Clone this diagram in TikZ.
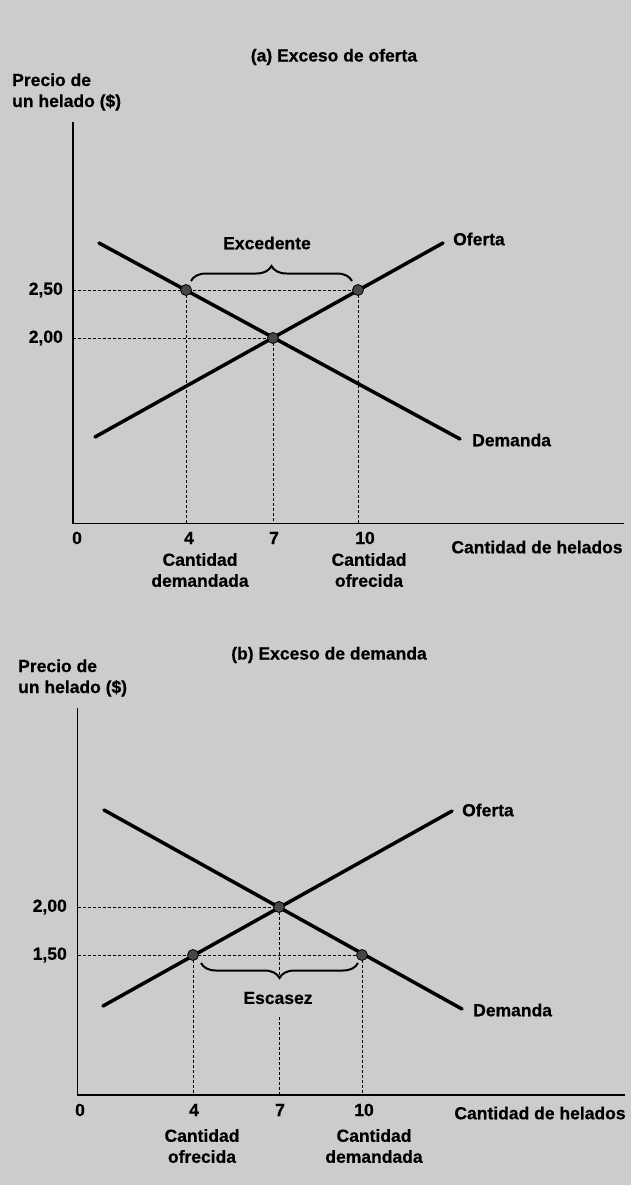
\documentclass[tikz,border=0pt]{standalone}
\usepackage{fontspec}
\setmainfont[FakeBold=0.6]{Liberation Sans}
\usetikzlibrary{decorations.pathreplacing}
\definecolor{paper}{gray}{0.80}
\begin{document}
\begin{tikzpicture}[x=1pt,y=-1pt,
  lbl/.style={font=\fontsize{17.5}{21}\selectfont\bfseries, inner sep=0pt, text=black},
  curve/.style={line width=3.5pt, line cap=round},
  axis/.style={line width=1.6pt},
  guide/.style={line width=0.9pt, dash pattern=on 3pt off 2pt},
  dot/.style={circle, fill=black!72, draw=black, line width=0.8pt, minimum size=11pt, inner sep=0pt},
  bracebox/.style={decorate, decoration={brace, amplitude=15pt}, line width=2pt},
]
\fill[paper] (0,0) rectangle (631,1185);
\useasboundingbox (0,0) rectangle (631,1185);

% ================= Panel (a) =================
\node[lbl] (titleA) at (334,57) {(a) Exceso de oferta};
\node[lbl, anchor=west, align=left] (ylabA) at (12,92) {Precio de\\un helado (\$)};

\coordinate (oA) at (72.7,523.5);
\coordinate (ytopA) at (72.7,122);
\coordinate (xendA) at (624,523.5);

\coordinate (A4) at (186,290);
\coordinate (A7) at (273,338);
\coordinate (A10) at (358,290);
\coordinate (pA250) at (72.7,290);
\coordinate (pA200) at (72.7,338);
\coordinate (qA4) at (186,523.5);
\coordinate (qA7) at (273,523.5);
\coordinate (qA10) at (358,523.5);

\draw[guide] (pA250) -- (A10);
\draw[guide] (pA200) -- (A7);
\draw[guide] (A4) -- (qA4);
\draw[guide] (A7) -- (qA7);
\draw[guide] (A10) -- (qA10);

\draw[axis] (ytopA) -- (oA) -- (xendA);

\coordinate (dA1) at (99,243);
\coordinate (dA2) at (460,439);
\coordinate (sA1) at (95,437);
\coordinate (sA2) at (443,243);
\draw[curve] (dA1) -- (dA2);
\draw[curve] (sA1) -- (sA2);

\node[dot] (dotA4) at (A4) {};
\node[dot] (dotA7) at (A7) {};
\node[dot] (dotA10) at (A10) {};

\draw[bracebox] (191,281) -- (352,281);
\node[lbl] (excA) at (267,243) {Excedente};

\node[lbl, anchor=east] (p250A) at (63,290) {2,50};
\node[lbl, anchor=east] (p200A) at (63,338) {2,00};

\node[lbl] (t0A) at (77,538) {0};
\node[lbl] (t4A) at (189,538) {4};
\node[lbl] (t7A) at (274,538) {7};
\node[lbl] (t10A) at (365,538) {10};
\node[lbl, align=center] (cdA) at (200,570) {Cantidad\\demandada};
\node[lbl, align=center] (coA) at (369,570) {Cantidad\\ofrecida};
\node[lbl] (xlabA) at (537,547) {Cantidad de helados};

\node[lbl, anchor=west] (ofA) at (453,239) {Oferta};
\node[lbl, anchor=west] (deA) at (472,440) {Demanda};

% ================= Panel (b) =================
\node[lbl] (titleB) at (329,655) {(b) Exceso de demanda};
\node[lbl, anchor=west, align=left] (ylabB) at (18,678) {Precio de\\un helado (\$)};

\coordinate (oB) at (77.5,1095);
\coordinate (ytopB) at (77.5,708);
\coordinate (xendB) at (625,1095);

\coordinate (B4) at (193,955);
\coordinate (B7) at (279,907);
\coordinate (B10) at (362,955);
\coordinate (pB200) at (77.5,907);
\coordinate (pB150) at (77.5,955);
\coordinate (qB4) at (193,1095);
\coordinate (qB7) at (279,1095);
\coordinate (qB10) at (362,1095);
\coordinate (tipB) at (279,978);
\coordinate (belowB) at (279,1017);

\draw[guide] (pB200) -- (B7);
\draw[guide] (pB150) -- (B10);
\draw[guide] (B4) -- (qB4);
\draw[guide] (B7) -- (tipB);
\draw[guide] (belowB) -- (qB7);
\draw[guide] (B10) -- (qB10);

\draw[axis] (ytopB) -- (oB) -- (xendB);

\coordinate (dB1) at (104,810);
\coordinate (dB2) at (462,1009);
\coordinate (sB1) at (103,1006);
\coordinate (sB2) at (452,811);
\draw[curve] (dB1) -- (dB2);
\draw[curve] (sB1) -- (sB2);

\node[dot] (dotB4) at (B4) {};
\node[dot] (dotB7) at (B7) {};
\node[dot] (dotB10) at (B10) {};

\draw[bracebox] (358,963) -- (201,963);
\node[lbl] (escB) at (278,998) {Escasez};

\node[lbl, anchor=east] (p200B) at (67,907) {2,00};
\node[lbl, anchor=east] (p150B) at (67,955) {1,50};

\node[lbl] (t0B) at (80,1110) {0};
\node[lbl] (t4B) at (194,1110) {4};
\node[lbl] (t7B) at (280,1110) {7};
\node[lbl] (t10B) at (364,1110) {10};
\node[lbl, align=center] (coB) at (202,1146) {Cantidad\\ofrecida};
\node[lbl, align=center] (cdB) at (374,1146) {Cantidad\\demandada};
\node[lbl] (xlabB) at (540,1113) {Cantidad de helados};

\node[lbl, anchor=west] (ofB) at (462,810) {Oferta};
\node[lbl, anchor=west] (deB) at (473,1010) {Demanda};
\end{tikzpicture}
\end{document}
